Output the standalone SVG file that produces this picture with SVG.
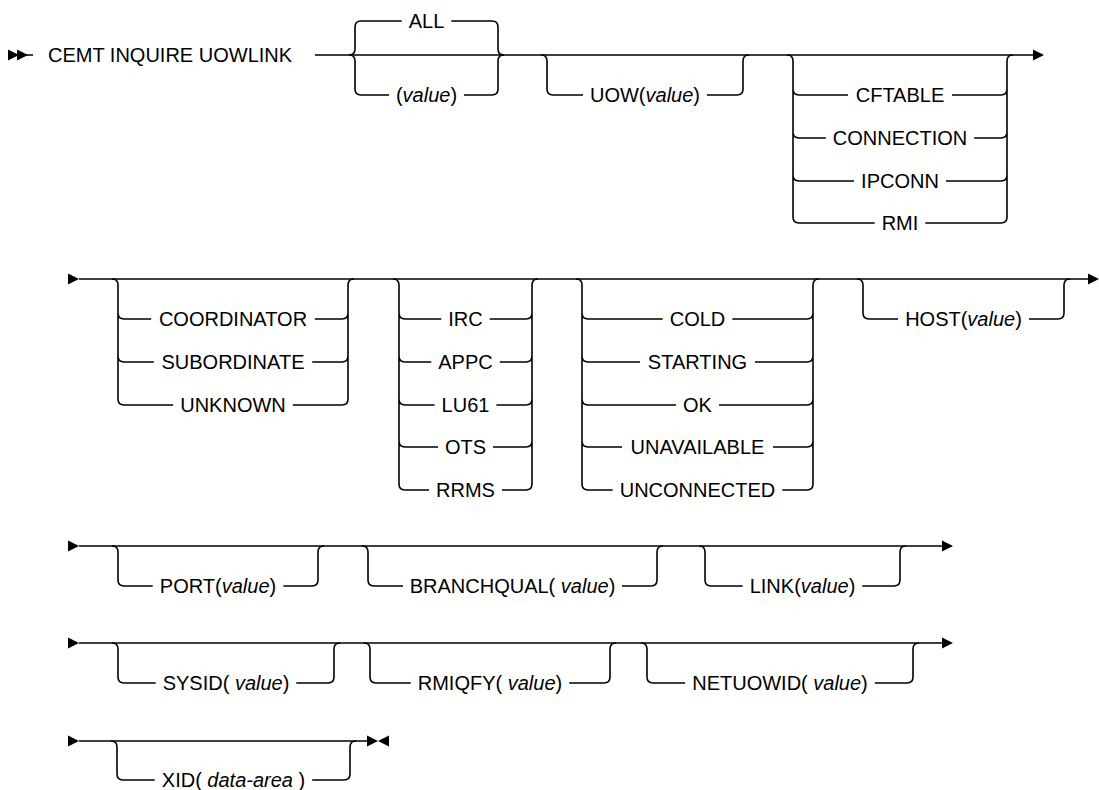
<svg xmlns="http://www.w3.org/2000/svg" width="1099" height="790" viewBox="0 0 1099 790">
<style>
.t{font-family:"Liberation Sans",Arial,sans-serif;font-size:20px;fill:#000;text-anchor:middle}
.ts{text-anchor:start}
.i{font-style:italic}
.c{fill:none;stroke:#000;stroke-width:1.6}
.a{fill:#000;stroke:none}
</style>
<defs>
<path id="ar" d="M0 -5.5 L11 0 L0 5.5 Z"/>
<path id="al" d="M11 -5.5 L0 0 L11 5.5 Z"/>
</defs>
<rect width="1099" height="790" fill="#fff"/>
<g id="connectors">
<!-- main lines -->
<path class="c" d="M26 55 H33 M315 55 H1035"/>
<path class="c" d="M79 279 H1090"/>
<path class="c" d="M79 546 H943"/>
<path class="c" d="M79 643 H943"/>
<path class="c" d="M79 741 H368"/>
<!-- arrowheads -->
<use href="#ar" class="a" x="8" y="55"/>
<use href="#ar" class="a" x="17" y="55"/>
<use href="#ar" class="a" x="1033" y="55"/>
<use href="#ar" class="a" x="68" y="279"/>
<use href="#ar" class="a" x="1088" y="279"/>
<use href="#ar" class="a" x="68" y="546"/>
<use href="#ar" class="a" x="942" y="546"/>
<use href="#ar" class="a" x="68" y="643"/>
<use href="#ar" class="a" x="942" y="643"/>
<use href="#ar" class="a" x="68" y="741"/>
<use href="#ar" class="a" x="367" y="741"/>
<use href="#al" class="a" x="378" y="741"/>
<!-- block A: ALL / (value) -->
<path class="c" d="M349 55 Q355 55 355 49 V27 Q355 21 361 21 H401.7 M349 55 Q355 55 355 61 V89 Q355 95 361 95 H389 M451.3 21 H492 Q498 21 498 27 V49 Q498 55 504 55 M464 95 H492 Q498 95 498 89 V61 Q498 55 504 55"/>
<!-- block B: UOW -->
<path class="c" d="M541 55 Q547 55 547 61 V89 Q547 95 553 95 H583 M707 95 H737 Q743 95 743 89 V61 Q743 55 749 55"/>
<!-- block C -->
<path class="c" d="M787 55 Q793 55 793 61 V217 Q793 223 799 223 H874.7 M793 89 Q793 95 799 95 H848 M793 132 Q793 138 799 138 H825.8 M793 175 Q793 181 799 181 H854 M925.3 223 H1001 Q1007 223 1007 217 V61 Q1007 55 1013 55 M952 95 H1001 Q1007 95 1007 89 M974.2 138 H1001 Q1007 138 1007 132 M946 181 H1001 Q1007 181 1007 175"/>
<!-- block D -->
<path class="c" d="M112 279 Q118 279 118 285 V399 Q118 405 124 405 H173.2 M118 313 Q118 319 124 319 H151.2 M118 356 Q118 362 124 362 H153.8 M292.8 405 H342 Q348 405 348 399 V285 Q348 279 354 279 M314.8 319 H342 Q348 319 348 313 M312.2 362 H342 Q348 362 348 356"/>
<!-- block E -->
<path class="c" d="M393 279 Q399 279 399 285 V484 Q399 490 405 490 H429 M399 313 Q399 319 405 319 H441.3 M399 356 Q399 362 405 362 H431.3 M399 399 Q399 405 405 405 H434.6 M399 441 Q399 447 405 447 H438 M502 490 H526 Q532 490 532 484 V285 Q532 279 538 279 M489.7 319 H526 Q532 319 532 313 M499.8 362 H526 Q532 362 532 356 M496.4 405 H526 Q532 405 532 399 M493 447 H526 Q532 447 532 441"/>
<!-- block F -->
<path class="c" d="M576 279 Q582 279 582 285 V484 Q582 490 588 490 H612.7 M582 313 Q582 319 588 319 H662.7 M582 356 Q582 362 588 362 H640 M582 399 Q582 405 588 405 H676 M582 441 Q582 447 588 447 H622 M782.3 490 H807 Q813 490 813 484 V285 Q813 279 819 279 M732.3 319 H807 Q813 319 813 313 M755 362 H807 Q813 362 813 356 M719 405 H807 Q813 405 813 399 M773 447 H807 Q813 447 813 441"/>
<!-- block G -->
<path class="c" d="M857 279 Q863 279 863 285 V313 Q863 319 869 319 H898 M1029 319 H1058 Q1064 319 1064 313 V285 Q1064 279 1070 279"/>
<!-- row 3 -->
<path class="c" d="M112 546 Q118 546 118 552 V580 Q118 586 124 586 H152.7 M283.3 586 H312 Q318 586 318 580 V552 Q318 546 324 546"/>
<path class="c" d="M362 546 Q368 546 368 552 V580 Q368 586 374 586 H403 M622 586 H651 Q657 586 657 580 V552 Q657 546 663 546"/>
<path class="c" d="M699 546 Q705 546 705 552 V580 Q705 586 711 586 H742.7 M862.3 586 H894 Q900 586 900 580 V552 Q900 546 906 546"/>
<!-- row 4 -->
<path class="c" d="M112 643 Q118 643 118 649 V677 Q118 683 124 683 H155.7 M296.3 683 H328 Q334 683 334 677 V649 Q334 643 340 643"/>
<path class="c" d="M364 643 Q370 643 370 649 V677 Q370 683 376 683 H410.8 M569.2 683 H604 Q610 683 610 677 V649 Q610 643 616 643"/>
<path class="c" d="M641 643 Q647 643 647 649 V677 Q647 683 653 683 H685.2 M874.8 683 H907 Q913 683 913 677 V649 Q913 643 919 643"/>
<!-- row 5 -->
<path class="c" d="M111 741 Q117 741 117 747 V774 Q117 780 123 780 H154.8 M312.2 780 H344 Q350 780 350 774 V747 Q350 741 356 741"/>
</g>
<g id="cmd"><text class="t ts" x="48" y="62">CEMT INQUIRE UOWLINK</text></g>
<g id="all"><text class="t" x="426.5" y="28">ALL</text></g>
<g id="value"><text class="t" x="426.5" y="102">(<tspan class="i">value</tspan>)</text></g>
<g id="uow"><text class="t" x="645" y="102">UOW(<tspan class="i">value</tspan>)</text></g>
<g id="cftable"><text class="t" x="900" y="102">CFTABLE</text></g>
<g id="connection"><text class="t" x="900" y="145">CONNECTION</text></g>
<g id="ipconn"><text class="t" x="900" y="188">IPCONN</text></g>
<g id="rmi"><text class="t" x="900" y="230">RMI</text></g>
<g id="coordinator"><text class="t" x="233" y="326">COORDINATOR</text></g>
<g id="subordinate"><text class="t" x="233" y="369">SUBORDINATE</text></g>
<g id="unknown"><text class="t" x="233" y="412">UNKNOWN</text></g>
<g id="irc"><text class="t" x="465.5" y="326">IRC</text></g>
<g id="appc"><text class="t" x="465.5" y="369">APPC</text></g>
<g id="lu61"><text class="t" x="465.5" y="412">LU61</text></g>
<g id="ots"><text class="t" x="465.5" y="454">OTS</text></g>
<g id="rrms"><text class="t" x="465.5" y="497">RRMS</text></g>
<g id="cold"><text class="t" x="697.5" y="326">COLD</text></g>
<g id="starting"><text class="t" x="697.5" y="369">STARTING</text></g>
<g id="ok"><text class="t" x="697.5" y="412">OK</text></g>
<g id="unavailable"><text class="t" x="697.5" y="454">UNAVAILABLE</text></g>
<g id="unconnected"><text class="t" x="697.5" y="497">UNCONNECTED</text></g>
<g id="host"><text class="t" x="963.5" y="326">HOST(<tspan class="i">value</tspan>)</text></g>
<g id="port"><text class="t" x="218" y="593">PORT(<tspan class="i">value</tspan>)</text></g>
<g id="branchqual"><text class="t" x="512.5" y="593">BRANCHQUAL( <tspan class="i">value</tspan>)</text></g>
<g id="link"><text class="t" x="802.5" y="593">LINK(<tspan class="i">value</tspan>)</text></g>
<g id="sysid"><text class="t" x="226" y="690">SYSID( <tspan class="i">value</tspan>)</text></g>
<g id="rmiqfy"><text class="t" x="490" y="690">RMIQFY( <tspan class="i">value</tspan>)</text></g>
<g id="netuowid"><text class="t" x="780" y="690">NETUOWID( <tspan class="i">value</tspan>)</text></g>
<g id="xid"><text class="t" x="233.5" y="787">XID( <tspan class="i">data-area</tspan> )</text></g>
</svg>
